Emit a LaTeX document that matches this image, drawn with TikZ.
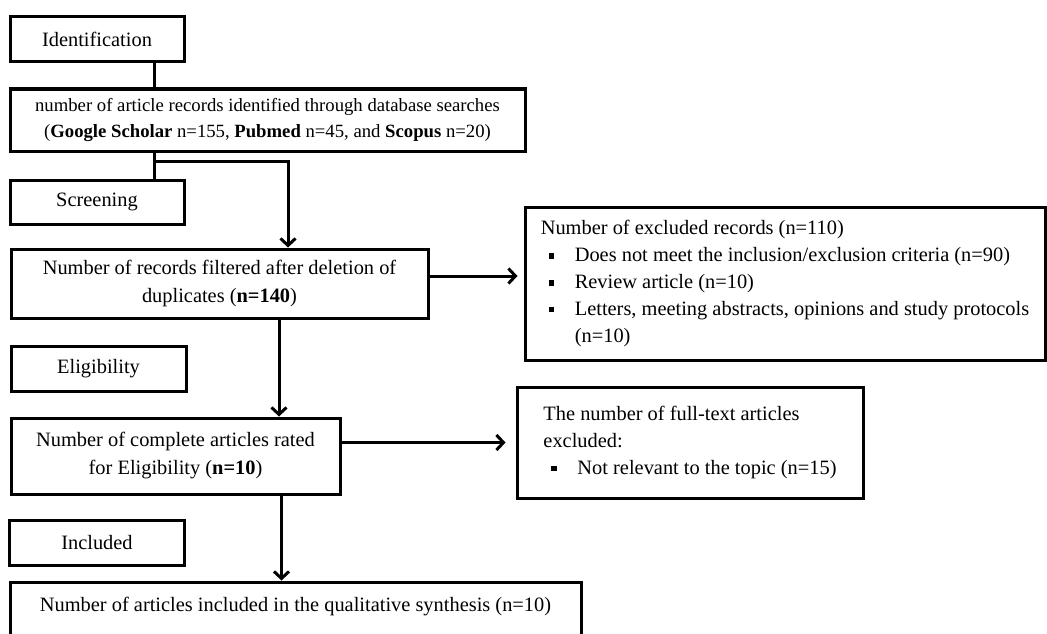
\documentclass[tikz,border=0pt]{standalone}
\usepackage{fontspec}
\setmainfont{Liberation Serif}
\usepackage{tikz}
\usetikzlibrary{arrows.meta,positioning}
\newcommand{\sqbul}{\makebox[34pt][l]{\hspace{8pt}\rule[3pt]{5.5pt}{5.5pt}}}

\begin{document}
\begin{tikzpicture}[
    x=1pt, y=-1pt,
    box/.style={draw, rectangle, line width=3pt, align=center, inner sep=0pt, font=\fontsize{20.4}{28}\selectfont},
    link/.style={draw, line width=3pt},
    arrow/.style={link, -{Straight Barb[length=7pt,width=15pt]}}
]
    \useasboundingbox (0,0) rectangle (1047,634);
    % stage labels
    \node[box, minimum width=174pt, minimum height=45pt] (ident) at (97,39.5) {Identification};
    \node[box, minimum width=174pt, minimum height=44pt] (screen) at (97,202) {Screening};
    \node[box, minimum width=175pt, minimum height=45pt] (elig) at (98.5,368.5) {Eligibility};
    \node[box, minimum width=175pt, minimum height=45pt] (incl) at (97,542.5) {Included};
    % flow boxes
    \node[box, minimum width=515pt, minimum height=62pt, font=\fontsize{18.7}{25.3}\selectfont] (search) at (267.5,120)
        {number of article records identified through database searches\\(\textbf{Google Scholar} n=155, \textbf{Pubmed} n=45, and \textbf{Scopus} n=20)};
    \node[box, minimum width=417pt, minimum height=69pt] (filter) at (219.5,283.5)
        {Number of records filtered after deletion of\\duplicates (\textbf{n=140})};
    \node[box, minimum width=329pt, minimum height=76pt] (full) at (175.5,456)
        {Number of complete articles rated\\for Eligibility (\textbf{n=10})};
    \node[box, minimum width=571pt, minimum height=58pt, text depth=14pt] (final) at (295.5,611)
        {Number of articles included in the qualitative synthesis (n=10)};
    % exclusion boxes
    \node[box, align=left, font=\fontsize{20.4}{26.8}\selectfont, minimum width=520pt, minimum height=153pt] (excl) at (785,283.5)
        {Number of excluded records (n=110)\\
         \sqbul Does not meet the inclusion/exclusion criteria (n=90)\\
         \sqbul Review article (n=10)\\
         \sqbul Letters, meeting abstracts, opinions and study protocols\\
         \hspace*{34pt}(n=10)};
    \node[box, align=left, font=\fontsize{20.4}{26.8}\selectfont, minimum width=346pt, minimum height=111pt] (excl2) at (690,442.5)
        {The number of full-text articles\\
         excluded:\\
         \sqbul Not relevant to the topic (n=15)};
    % connectors
    \coordinate (split) at (154,161.5);
    \draw[link] (ident.south -| split) -- (search.north -| split);
    \draw[link] (search.south -| split) -- (screen.north -| split);
    \draw[arrow] (split) -| ([xshift=68.5pt]filter.north);
    \draw[arrow] ([yshift=7.5pt]filter.east) -- ([yshift=7.5pt, xshift=-6pt]excl.west);
    \draw[arrow] ([xshift=59.5pt]filter.south) -- ([xshift=59.5pt]filter.south |- full.north);
    \draw[arrow] (full.east |- excl2.west) -- ([xshift=-10pt]excl2.west);
    \draw[arrow] ([xshift=106pt]full.south) -- ([xshift=106pt]full.south |- final.north);
\end{tikzpicture}
\end{document}
